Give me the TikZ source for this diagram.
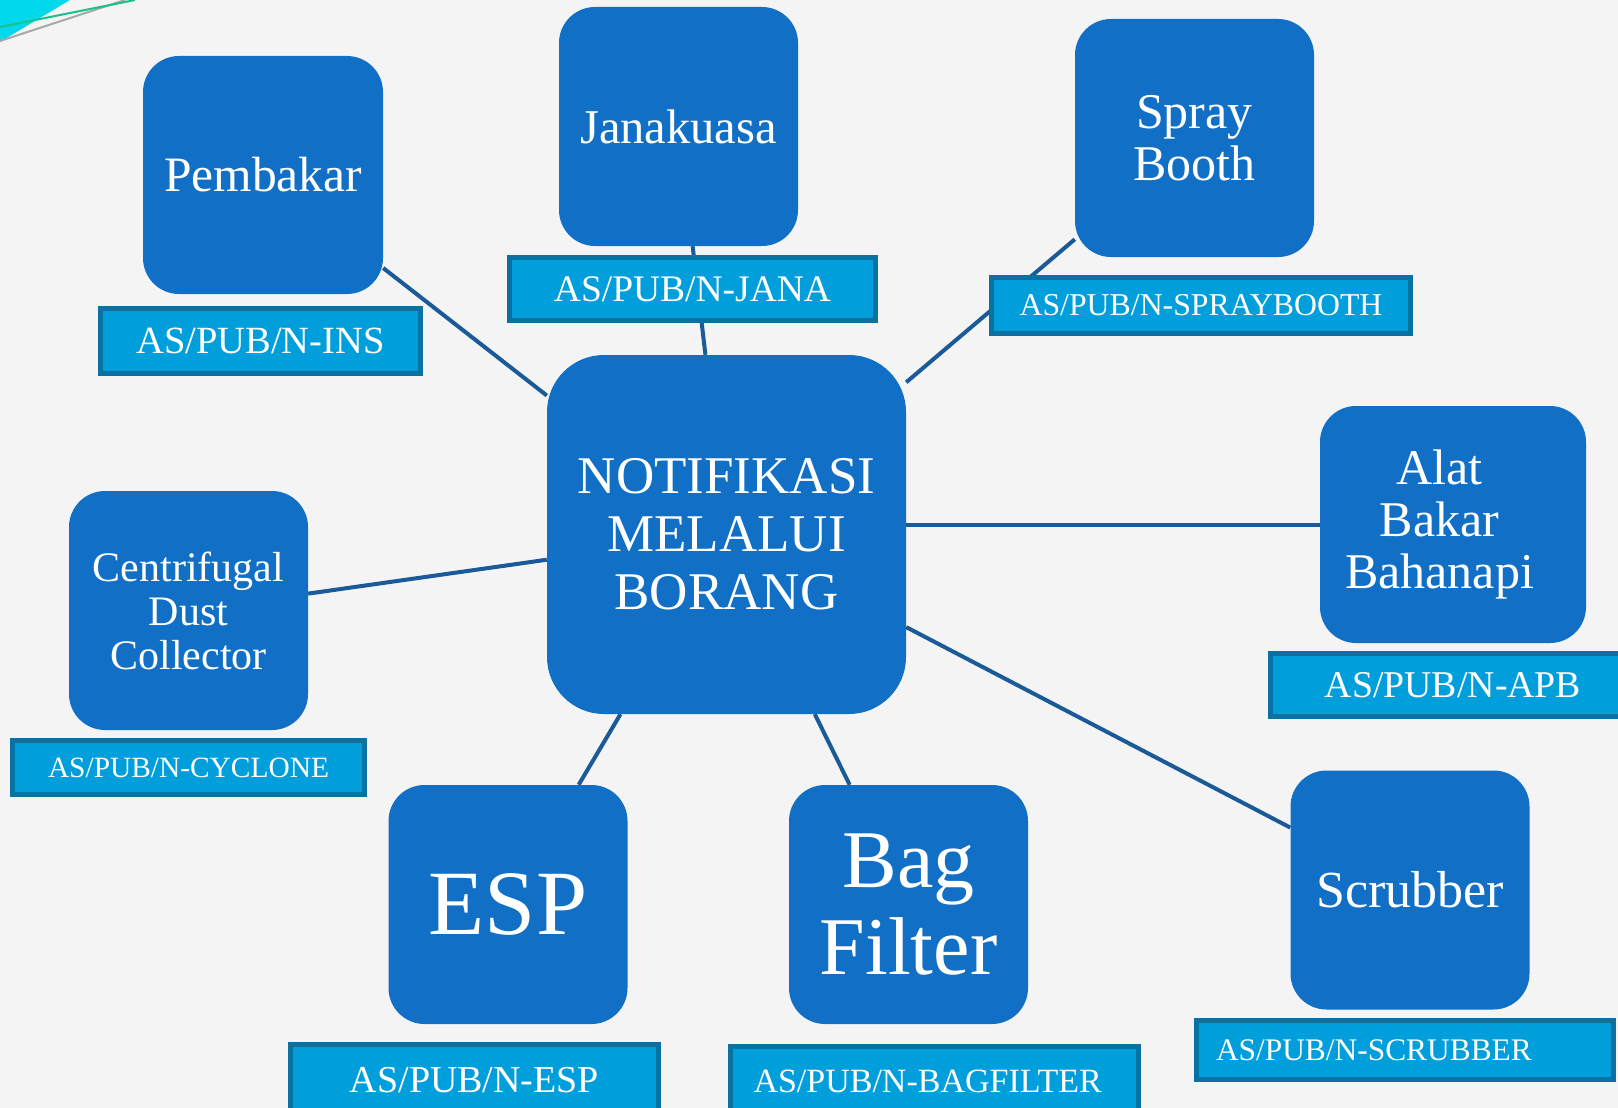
\documentclass[tikz,border=0pt]{standalone}
\usepackage{fontspec}
\setmainfont{Liberation Serif}
\definecolor{pagebg}{HTML}{F4F4F4}
\definecolor{boxblue}{HTML}{1170C6}
\definecolor{tagfill}{HTML}{009FDB}
\definecolor{tagedge}{HTML}{0A72A3}
\definecolor{linkblue}{HTML}{1B5A99}
\definecolor{cornercyan}{HTML}{00D8EC}
\definecolor{swooshgreen}{HTML}{19C28C}
\definecolor{swooshgray}{HTML}{A8A8A8}
\newcommand{\fs}[2]{\fontsize{#1pt}{#2pt}\selectfont}
% pulls a centred line left by half of the given amount
\newcommand{\nudge}{\hspace*{-27pt}}
\begin{document}
\begin{tikzpicture}[x=1pt,y=-1pt,
  unit/.style={rectangle, rounded corners=36pt, fill=boxblue, text=white,
    align=center, inner sep=0pt, minimum width=239pt, minimum height=239pt},
  hub/.style={unit, rounded corners=57pt, minimum width=359pt, minimum height=359pt},
  tag/.style={rectangle, fill=tagfill, draw=tagedge, line width=5pt, text=white,
    inner sep=0pt, align=center},
  link/.style={draw=linkblue, line width=4pt}]
\useasboundingbox (0,0) rectangle (1618,1108);
\clip (0,0) rectangle (1618,1108);
\fill[pagebg] (0,0) rectangle (1618,1108);

% corner ornament
\fill[cornercyan] (0,0) -- (70,0) -- (0,42) -- cycle;
\draw[swooshgray, line width=2pt] (0,41) -- (125,0);
\draw[swooshgreen, line width=2pt] (0,27) -- (135,0);

% central box and the units around it
\node[hub, font=\fs{53}{58}] (hub) at (726.5,534.5) {NOTIFIKASI\\MELALUI\\BORANG};
\node[unit, minimum height=238pt, minimum width=240pt, font=\fs{49.5}{52}] (pemb) at (263,175) {Pembakar};
\node[unit, font=\fs{48.5}{52}] (jana) at (678.5,126.5) {Janakuasa};
\node[unit, minimum height=238pt, font=\fs{50}{52}] (spray) at (1194.5,138) {Spray\\Booth};
\node[unit, minimum width=266pt, minimum height=237pt, font=\fs{50}{52}] (apb) at (1453,524.5)
  {\nudge Alat\\\nudge Bakar\\\nudge Bahanapi};
\node[unit, font=\fs{42}{44}] (cyc) at (188.5,610.5) {Centrifugal\\Dust\\Collector};
\node[unit, font=\fs{92}{94}] (esp) at (508,904.5) {ESP};
\node[unit, font=\fs{82}{87}] (bag) at (908.5,904.5) {Bag\\Filter};
\node[unit, font=\fs{52}{54}] (scr) at (1410,890) {Scrubber};

% connectors
\draw[link] (pemb) -- (hub);
\draw[link] (jana) -- (hub);
\draw[link] (spray) -- (hub);
\draw[link] (hub.east |- apb.west) -- (apb.west);
\draw[link] (cyc) -- (hub);
\draw[link] (esp) -- (hub);
\draw[link] (bag) -- (hub);
\draw[link] (scr) -- (hub);

% reference-number tags
\node[tag, minimum width=320pt, minimum height=65pt, font=\fs{38.5}{40}] (tpemb) at (260.5,341) {AS/PUB/N-INS};
\node[tag, minimum width=366pt, minimum height=63pt, font=\fs{37.5}{40}] (tjana) at (692.5,289) {AS/PUB/N-JANA};
\node[tag, minimum width=419pt, minimum height=56pt, font=\fs{31.8}{34}] (tspray) at (1201,305.5) {AS/PUB/N-SPRAYBOOTH};
\node[tag, minimum width=365pt, minimum height=63pt, font=\fs{37.8}{40}] (tapb) at (1453,685) {AS/PUB/N-APB};
\node[tag, minimum width=352pt, minimum height=54pt, font=\fs{29.4}{31}] (tcyc) at (188.5,767.5) {AS/PUB/N-CYCLONE};
\node[tag, minimum width=368pt, minimum height=72pt, font=\fs{38}{40}] (tesp) at (474.5,1080) {AS/PUB/N-ESP};
\node[tag, minimum width=408pt, minimum height=70pt, text width=386pt, align=left, font=\fs{34}{36}] (tbag) at (934.5,1081) {\hspace*{12pt}AS/PUB/N-BAGFILTER};
\node[tag, minimum width=417pt, minimum height=59pt, text width=396pt, align=left, font=\fs{31.4}{33}] (tscr) at (1405,1050) {\hspace*{9pt}AS/PUB/N-SCRUBBER};
\end{tikzpicture}
\end{document}
